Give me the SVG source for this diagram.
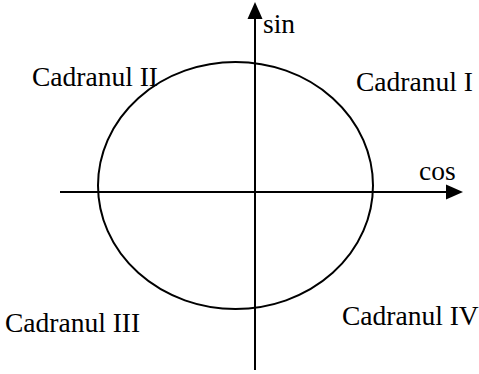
<svg xmlns="http://www.w3.org/2000/svg" width="479" height="374" viewBox="0 0 479 374">
<style>
.ln{stroke:#000;stroke-width:2;fill:none}
.q{font-family:"Liberation Serif","Times New Roman",serif;font-size:27.5px;fill:#000}
</style>
<rect width="479" height="374" fill="#fff"/>
<g id="connectors">
<line class="ln" x1="60" y1="192" x2="450" y2="192"/>
<polygon points="463,192 446,184.5 446,199.5" fill="#000"/>
<line class="ln" x1="255" y1="370" x2="255" y2="16"/>
<polygon points="255,2 247.5,19 262.5,19" fill="#000"/>
</g>
<g id="circle"><ellipse class="ln" cx="235.5" cy="185.5" rx="137.5" ry="123.5"/></g>
<g id="sin"><text class="q" x="263" y="33">sin</text></g>
<g id="cos"><text class="q" x="419" y="180">cos</text></g>
<g id="q1"><text class="q" x="356" y="91">Cadranul I</text></g>
<g id="q2"><text class="q" x="32" y="86">Cadranul II</text></g>
<g id="q3"><text class="q" x="5" y="332">Cadranul III</text></g>
<g id="q4"><text class="q" x="342" y="325">Cadranul IV</text></g>
</svg>
